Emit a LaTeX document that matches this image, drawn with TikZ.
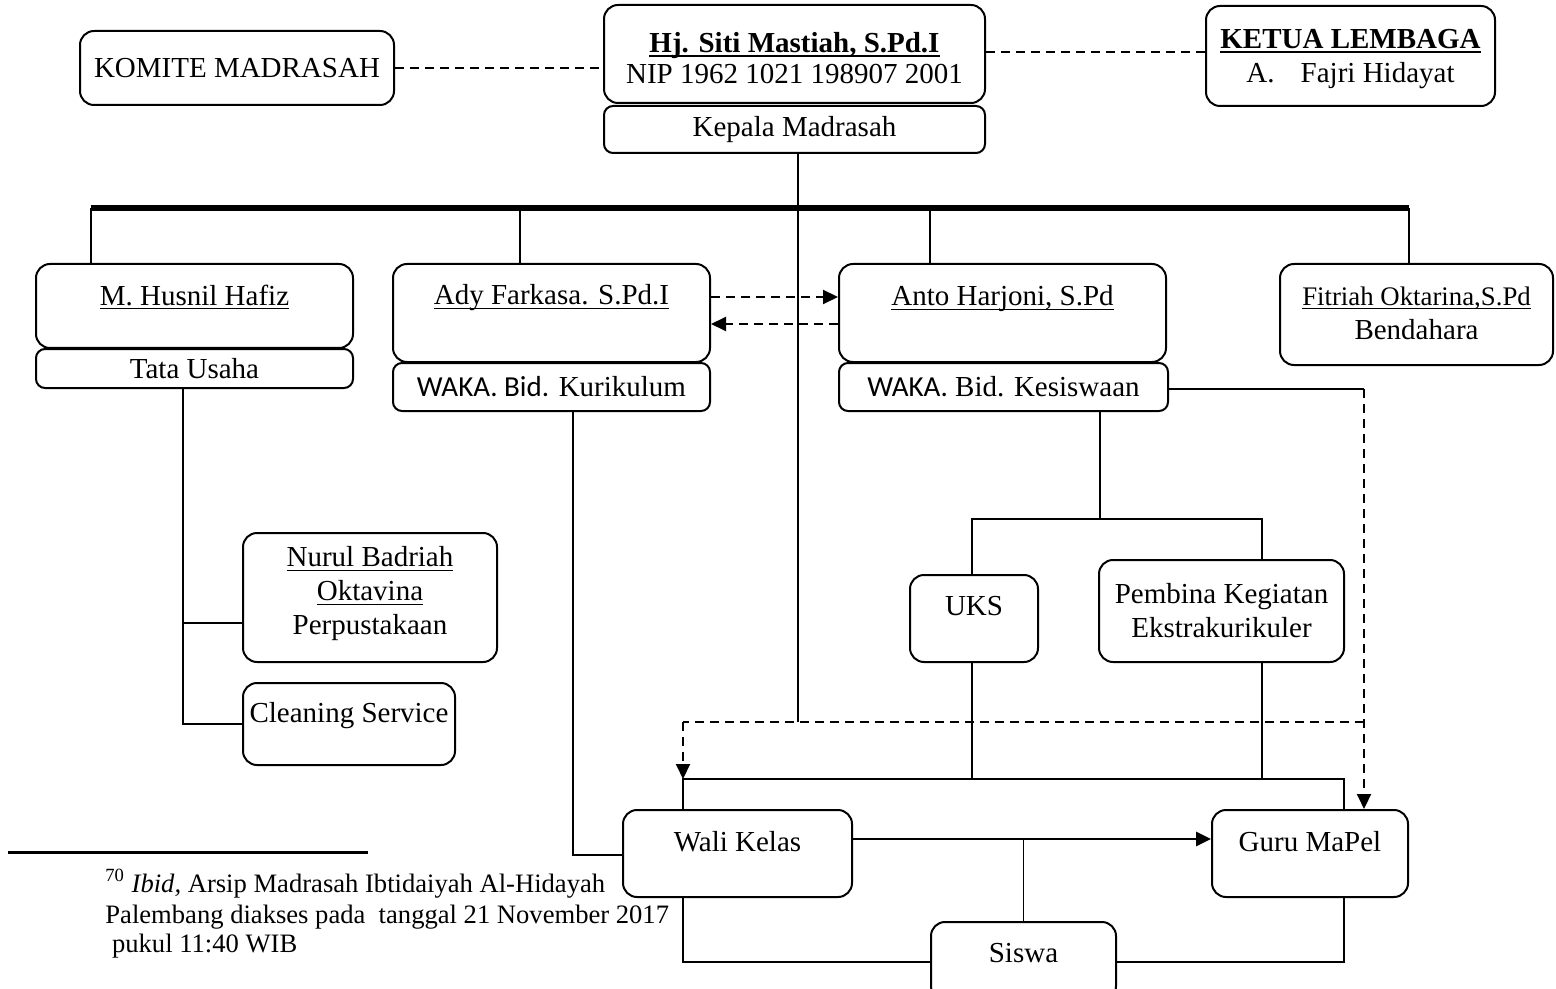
\documentclass[tikz,border=0pt]{standalone}
\usepackage{fontspec}
\setmainfont{Liberation Serif}
\newfontfamily\calibrifont{Carlito}
\usetikzlibrary{arrows.meta}
\newcommand\myul[1]{\leavevmode\setbox0=\hbox{#1}\rlap{\rule[-2.1pt]{\wd0}{0.8pt}}\box0}
\begin{document}
\begin{tikzpicture}[x=0.5pt,y=-0.5pt,
  box/.style={draw, line width=1pt, rounded corners=7pt, inner sep=0pt, align=center,
    font=\fontsize{14.5}{17}\selectfont},
  sbox/.style={box, rounded corners=4.5pt},
  txt/.style={inner sep=0pt, align=center, font=\fontsize{14.5}{17}\selectfont},
  ln/.style={line width=0.9pt},
  dsh/.style={line width=1pt, dash pattern=on 4.5pt off 3pt},
  arr/.style={-{Triangle[length=7.5pt,width=7pt]}},
]
\useasboundingbox (0,0) rectangle (1556,989);

% top row
\node[box, minimum width=157pt, minimum height=37pt] (komite) at (237,68) {KOMITE MADRASAH};
\node[box, minimum width=190.5pt, minimum height=49pt] (kepala) at (794.5,54) {};
\node[txt, font=\fontsize{14.5}{15.5}\selectfont] (kepalaT) at (794.5,58) {\myul{\textbf{Hj. Siti Mastiah, S.Pd.I}}\\NIP 1962 1021 198907 2001};
\node[sbox, minimum width=190.5pt, minimum height=23.5pt] (kmad) at (794.5,129.5) {Kepala Madrasah};
\node[box, minimum width=144.5pt, minimum height=50pt] (ketua) at (1350.5,56) {};
\node[txt] (ketuaT) at (1350.5,59) {\myul{\textbf{KETUA LEMBAGA}}\\A.\hspace{0.9em}Fajri Hidayat};

% second row
\node[box, minimum width=158.5pt, minimum height=42pt] (husnil) at (194.5,306) {};
\node[txt] (husnilT) at (194.5,297) {\myul{M. Husnil Hafiz}};
\node[sbox, minimum width=158.5pt, minimum height=19.5pt] (tata) at (194.5,368.5) {Tata Usaha};

\node[box, minimum width=158.5pt, minimum height=49pt] (ady) at (551.5,313) {};
\node[txt] (adyT) at (551.5,298) {\myul{Ady Farkasa. S.Pd.I}};
\node[sbox, minimum width=158.5pt, minimum height=24pt] (kur) at (551.5,387) {{\calibrifont WAKA. Bid.} Kurikulum};

\node[box, minimum width=163.5pt, minimum height=49pt] (anto) at (1002.5,313) {};
\node[txt] (antoT) at (1002.5,299) {\myul{Anto Harjoni, S.Pd}};
\node[sbox, minimum width=164.5pt, minimum height=24pt] (kes) at (1003.5,387) {{\calibrifont WAKA.} Bid. Kesiswaan};

\node[box, minimum width=136.5pt, minimum height=50.5pt] (fit) at (1416.5,314.5) {};
\node[txt] (fitT) at (1416.5,313) {{\fontsize{13.4}{16}\selectfont\myul{Fitriah Oktarina,S.Pd}}\\Bendahara};

% lower left
\node[box, minimum width=127pt, minimum height=64.5pt] (nurul) at (370,597.5) {};
\node[txt] (nurulT) at (370,594) {\myul{Nurul Badriah}\\\myul{Oktavina}\\Perpustakaan};
\node[box, minimum width=106pt, minimum height=41pt] (clean) at (349,724) {};
\node[txt] (cleanT) at (349,716) {Cleaning Service};

% lower right
\node[box, minimum width=64pt, minimum height=43.5pt] (uks) at (974,618.5) {};
\node[txt] (uksT) at (974,606) {UKS};
\node[box, minimum width=122.5pt, minimum height=51pt] (pemb) at (1221.5,611) {Pembina Kegiatan\\Ekstrakurikuler};

\node[box, minimum width=114.5pt, minimum height=43.5pt] (wali) at (737.5,853.5) {};
\node[txt] (waliT) at (737.5,842) {Wali Kelas};
\node[box, minimum width=98pt, minimum height=43.5pt] (guru) at (1310,853.5) {};
\node[txt] (guruT) at (1310,842) {Guru MaPel};
\node[box, minimum width=92.5pt, minimum height=39pt] (siswa) at (1023.5,961) {};
\node[txt] (siswaT) at (1023.5,953) {Siswa};

% coordinates
\coordinate (busL) at (91,208);
\coordinate (busR) at (1409,208);
\coordinate (bAdy) at (520,208);
\coordinate (bAnto) at (930,208);
\coordinate (mainX) at (798,0);
\coordinate (dashY) at (0,722);
\coordinate (tX) at (183,0);
\coordinate (kX) at (573,0);
\coordinate (sX) at (1100,0);
\coordinate (uX) at (972,0);
\coordinate (pX) at (1262,0);
\coordinate (rX) at (1364,0);
\coordinate (wX) at (683,0);
\coordinate (gX) at (1344,0);
\coordinate (frY) at (0,779);
\coordinate (botY) at (0,962);
\coordinate (arY) at (0,839);
\coordinate (subY) at (0,519);

% dashed top links
\draw[dsh] (komite.east) -- (komite.east -| kepala.west);
\draw[dsh] ([yshift=1pt]kepala.east) -- ([yshift=1pt]kepala.east -| ketua.west);

% main vertical and bus
\draw[ln] (kmad.south -| mainX) -- (mainX |- dashY);
\draw[line width=2.6pt] (busL) -- (busR);
\draw[ln] (busL) -- (busL |- husnil.north);
\draw[ln] (bAdy) -- (bAdy |- ady.north);
\draw[ln] (bAnto) -- (bAnto |- anto.north);
\draw[ln] (busR) -- (busR |- fit.north);

% tata usaha branch
\draw[ln] (tata.south -| tX) -- (tX |- clean.west) -- (clean.west);
\draw[ln] (tX |- 0,623) -- (nurul.west |- 0,623);

% kurikulum to wali kelas
\draw[ln] (kur.south -| kX) -- (kX |- 0,855) -- (wali.west |- 0,855);

% dashed arrows ady <-> anto
\draw[dsh, arr] (ady.east |- 0,297) -- (anto.west |- 0,297);
\draw[dsh, arr] (anto.west |- 0,324) -- (ady.east |- 0,324);

% kesiswaan branch
\draw[ln] (kes.south -| sX) -- (sX |- subY);
\draw[ln] (uX |- uks.north) -- (uX |- subY) -- (pX |- subY) -- (pX |- pemb.north);
\draw[ln] (kes.east |- 0,389) -- (rX |- 0,389);
\draw[dsh, arr] (rX |- 0,389) -- (rX |- guru.north);

% dashed horizontal to wali kelas
\draw[dsh] (rX |- dashY) -- (wX |- dashY);
\draw[dsh, arr] (wX |- dashY) -- (wX |- frY);

% frame
\draw[ln] (uX |- uks.south) -- (uX |- frY);
\draw[ln] (pX |- pemb.south) -- (pX |- frY);
\draw[ln] (wX |- wali.north) -- (wX |- frY) -- (gX |- frY) -- (gX |- guru.north);
\draw[ln] (wX |- wali.south) -- (wX |- botY) -- (siswa.west |- botY);
\draw[ln] (siswa.east |- botY) -- (gX |- botY) -- (gX |- guru.south);
\draw[line width=1.4pt, arr] (wali.east |- arY) -- (guru.west |- arY);
\draw[ln] (siswa.north) -- (siswa.north |- arY);

% footnote
\coordinate (fnL) at (8,852);
\coordinate (fnR) at (368,852);
\draw[line width=1.5pt] (fnL) -- (fnR);
\node[inner sep=0pt, anchor=base west, font=\fontsize{13.3}{15.5}\selectfont] (fn1) at (105,892) {\textsuperscript{70} \textit{Ibid,} Arsip Madrasah Ibtidaiyah Al-Hidayah};
\node[inner sep=0pt, anchor=base west, font=\fontsize{13.3}{15.5}\selectfont] (fn2) at (105,923) {Palembang diakses pada\ \ tanggal 21 November 2017};
\node[inner sep=0pt, anchor=base west, font=\fontsize{13.3}{15.5}\selectfont] (fn3) at (105,952) {\ pukul 11:40 WIB};
\end{tikzpicture}
\end{document}
